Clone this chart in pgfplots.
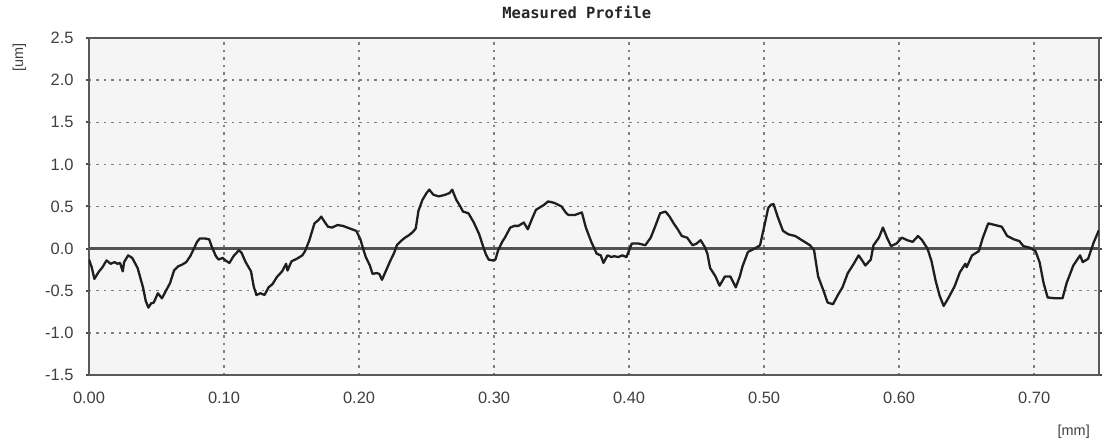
\documentclass[border=0pt]{standalone}
\usepackage{fontspec}
\setmainfont{Liberation Sans}
\newfontfamily\titlefont{DejaVu Sans Mono}
\usepackage{pgfplots}
\pgfplotsset{compat=1.18}
\begin{document}
\begin{tikzpicture}
\path[use as bounding box] (-89bp,-70bp) rectangle (1013bp,375bp);
\begin{axis}[
  at={(0,0)}, anchor=south west,
  scale only axis,
  width=1010bp, height=337bp,
  xmin=0, xmax=0.748, ymin=-1.5, ymax=2.5,
  xtick={0,0.1,0.2,0.3,0.4,0.5,0.6,0.7},
  xticklabels={0.00,0.10,0.20,0.30,0.40,0.50,0.60,0.70},
  ytick={-1.5,-1,-0.5,0,0.5,1,1.5,2,2.5},
  yticklabels={-1.5,-1.0,-0.5,0.0,0.5,1.0,1.5,2.0,2.5},
  ticklabel style={font=\fontsize{16.5}{19}\selectfont, text=black!75},
  yticklabel style={xshift=-9bp},
  xticklabel style={yshift=-11bp},
  tick align=outside,
  major tick length=3bp,
  tick style={black!70, line width=2bp},
  xtick style={draw=none},
  grid=major,
  major grid style={black!50, line width=1.4bp, dash pattern=on 2.5bp off 5bp},
  axis line style={black!65, line width=2.2bp},
  axis background/.style={fill=black!4},
  extra y ticks={0},
  extra y tick labels={},
  extra y tick style={grid=major, major grid style={solid, black!68, line width=2.6bp}, major tick length=0bp},
  title={Measured Profile},
  title style={font=\titlefont\bfseries\fontsize{15.5}{17}\selectfont, text=black!85, at={(0.483,1.059)}, anchor=center},
  clip mode=individual,
]
\addplot[black!88, line width=2.3bp, line join=round] table {
x y
0.000 -0.13
0.002 -0.22
0.004 -0.36
0.007 -0.28
0.010 -0.22
0.013 -0.14
0.016 -0.18
0.019 -0.16
0.021 -0.18
0.023 -0.17
0.025 -0.27
0.026 -0.16
0.029 -0.08
0.032 -0.11
0.036 -0.23
0.040 -0.46
0.042 -0.62
0.044 -0.70
0.046 -0.65
0.048 -0.64
0.051 -0.53
0.054 -0.59
0.057 -0.50
0.060 -0.41
0.063 -0.26
0.066 -0.21
0.069 -0.19
0.072 -0.16
0.075 -0.09
0.078 0.01
0.080 0.08
0.082 0.12
0.086 0.12
0.089 0.11
0.091 0.02
0.094 -0.09
0.096 -0.13
0.099 -0.11
0.101 -0.14
0.104 -0.17
0.107 -0.09
0.111 -0.02
0.113 -0.05
0.116 -0.16
0.120 -0.27
0.122 -0.45
0.124 -0.55
0.127 -0.53
0.130 -0.55
0.133 -0.46
0.136 -0.42
0.139 -0.34
0.143 -0.27
0.146 -0.18
0.147 -0.26
0.150 -0.15
0.154 -0.12
0.158 -0.08
0.160 -0.03
0.163 0.09
0.167 0.30
0.170 0.34
0.172 0.38
0.174 0.33
0.177 0.26
0.180 0.25
0.184 0.28
0.188 0.27
0.193 0.24
0.198 0.21
0.201 0.11
0.203 0.00
0.205 -0.10
0.208 -0.20
0.210 -0.30
0.213 -0.29
0.215 -0.30
0.217 -0.37
0.220 -0.26
0.223 -0.15
0.226 -0.05
0.228 0.04
0.231 0.09
0.234 0.13
0.237 0.16
0.240 0.20
0.242 0.24
0.244 0.45
0.247 0.58
0.250 0.66
0.252 0.70
0.255 0.64
0.259 0.62
0.264 0.64
0.267 0.66
0.269 0.70
0.272 0.58
0.275 0.50
0.277 0.44
0.281 0.42
0.285 0.31
0.287 0.24
0.289 0.17
0.292 0.02
0.294 -0.07
0.296 -0.13
0.299 -0.14
0.301 -0.13
0.303 -0.02
0.306 0.08
0.308 0.13
0.312 0.25
0.315 0.27
0.318 0.27
0.322 0.31
0.325 0.23
0.328 0.35
0.331 0.46
0.334 0.49
0.337 0.52
0.340 0.56
0.343 0.55
0.345 0.54
0.350 0.50
0.353 0.43
0.355 0.40
0.360 0.40
0.365 0.43
0.368 0.25
0.372 0.08
0.376 -0.06
0.379 -0.08
0.381 -0.17
0.384 -0.08
0.387 -0.10
0.389 -0.09
0.392 -0.10
0.395 -0.08
0.398 -0.10
0.400 -0.02
0.402 0.06
0.407 0.06
0.412 0.04
0.416 0.13
0.419 0.25
0.423 0.42
0.427 0.44
0.430 0.38
0.433 0.30
0.436 0.23
0.439 0.15
0.443 0.13
0.447 0.04
0.450 0.06
0.453 0.10
0.456 0.02
0.458 -0.06
0.460 -0.23
0.464 -0.33
0.467 -0.44
0.471 -0.33
0.475 -0.33
0.479 -0.46
0.482 -0.33
0.484 -0.21
0.488 -0.04
0.493 0.00
0.497 0.04
0.501 0.33
0.503 0.48
0.505 0.52
0.507 0.53
0.510 0.38
0.514 0.21
0.518 0.17
0.523 0.15
0.528 0.10
0.531 0.07
0.534 0.04
0.537 -0.02
0.540 -0.33
0.544 -0.50
0.547 -0.64
0.551 -0.66
0.555 -0.54
0.558 -0.46
0.562 -0.29
0.566 -0.19
0.570 -0.08
0.573 -0.15
0.575 -0.20
0.579 -0.13
0.581 0.04
0.585 0.13
0.588 0.25
0.591 0.13
0.594 0.03
0.598 0.06
0.602 0.13
0.606 0.10
0.610 0.08
0.614 0.15
0.617 0.10
0.621 0.00
0.624 -0.15
0.627 -0.38
0.630 -0.56
0.633 -0.68
0.636 -0.60
0.641 -0.45
0.645 -0.28
0.649 -0.18
0.650 -0.22
0.654 -0.08
0.659 -0.03
0.662 0.13
0.666 0.30
0.671 0.28
0.676 0.26
0.680 0.15
0.685 0.11
0.689 0.09
0.692 0.03
0.697 0.01
0.701 -0.03
0.704 -0.16
0.707 -0.41
0.710 -0.58
0.716 -0.59
0.721 -0.59
0.724 -0.41
0.729 -0.20
0.734 -0.08
0.736 -0.16
0.740 -0.12
0.744 0.07
0.748 0.22
};
\node[rotate=90, font=\fontsize{14.5}{16}\selectfont, text=black!75] at (rel axis cs:-0.069,0.941) {[um]};
\node[font=\fontsize{14.5}{16}\selectfont, text=black!75] at (rel axis cs:0.975,-0.169) {[mm]};
\end{axis}
\end{tikzpicture}
\end{document}
